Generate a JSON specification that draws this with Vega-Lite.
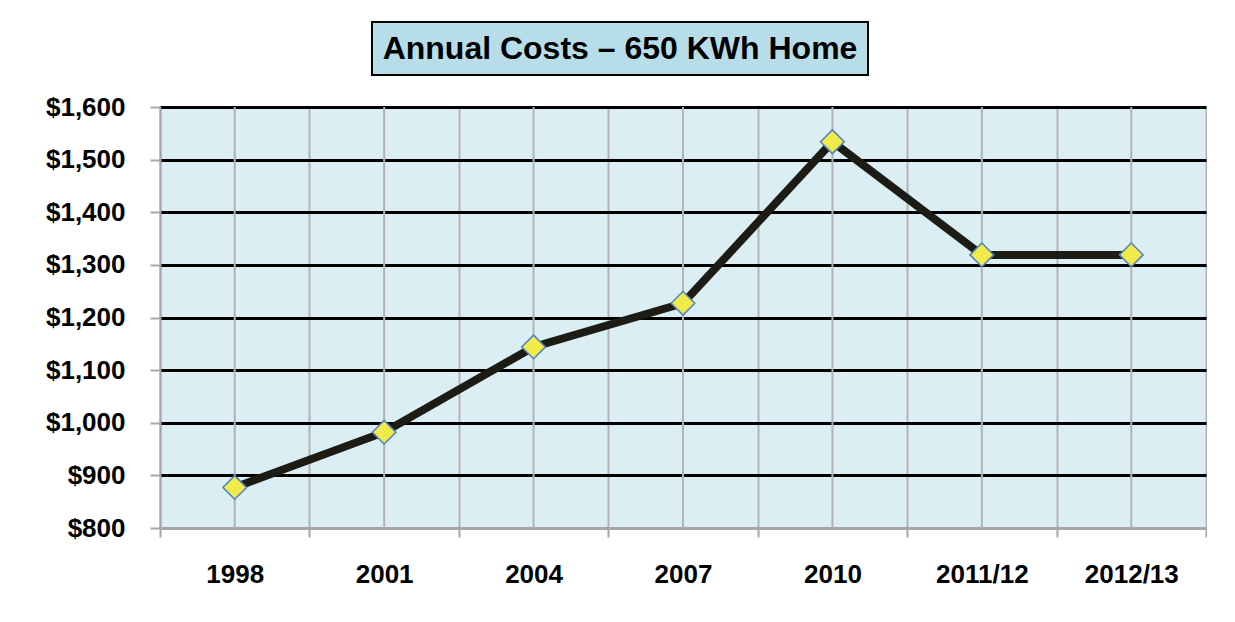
{
  "$schema": "https://vega.github.io/schema/vega-lite/v6.json",
  "background": "white",
  "padding": {"left": 45, "top": 21, "right": 0, "bottom": 0},
  "spacing": 18,
  "center": true,
  "config": {"view": {"stroke": null}, "font": "Liberation Sans"},
  "vconcat": [
    {
      "width": 496,
      "height": 53,
      "view": {"fill": "#B7DEE8", "stroke": "#000000", "strokeWidth": 2},
      "data": {"values": [{"t": "Annual Costs – 650 KWh Home"}]},
      "mark": {"type": "text", "fontSize": 32, "fontWeight": "bold", "font": "Liberation Sans", "color": "black", "baseline": "middle", "align": "center"},
      "encoding": {
        "text": {"field": "t", "type": "nominal"},
        "y": {"field": "t", "type": "nominal", "axis": {"orient": "right", "title": null, "labels": false, "ticks": false, "domain": false, "grid": false, "minExtent": 126, "maxExtent": 126}}
      }
    },
    {
      "width": 1046,
      "height": 421,
      "view": {"fill": "#DAEEF3", "stroke": null},
      "data": {"values": [
        {"label": "1998", "cost": 877},
        {"label": "2001", "cost": 982},
        {"label": "2004", "cost": 1144},
        {"label": "2007", "cost": 1227},
        {"label": "2010", "cost": 1534},
        {"label": "2011/12", "cost": 1319},
        {"label": "2012/13", "cost": 1319}
      ]},
      "encoding": {
        "x": {
          "field": "label", "type": "ordinal", "sort": null,
          "scale": {"type": "band", "paddingInner": 0, "paddingOuter": 0},
          "axis": {
            "title": null, "labelAngle": 0, "tickBand": "extent",
            "grid": true, "gridColor": "#b3b3b3", "gridWidth": 2,
            "domainColor": "#a6a6a6", "domainWidth": 2,
            "tickColor": "#a6a6a6", "tickWidth": 2, "tickSize": 9,
            "labelFontSize": 26, "labelFontWeight": "bold", "labelColor": "black",
            "labelPadding": 37, "labelBaseline": "middle", "labelFont": "Liberation Sans"
          }
        }
      },
      "layer": [
        {
          "mark": {"type": "rule", "color": "#b3b3b3", "strokeWidth": 2}
        },
        {
          "mark": {"type": "line", "color": "#1c1c14", "strokeWidth": 8},
          "encoding": {
            "y": {
              "field": "cost", "type": "quantitative",
              "scale": {"domain": [800, 1600], "nice": false, "zero": false},
              "axis": {
                "title": null,
                "values": [800, 900, 1000, 1100, 1200, 1300, 1400, 1500, 1600],
                "format": "$,.0f",
                "grid": true,
                "gridColor": {"condition": {"test": "datum.value == 800", "value": "#a6a6a6"}, "value": "#000000"},
                "gridWidth": 3,
                "domainColor": "#a6a6a6", "domainWidth": 2,
                "tickColor": "#a6a6a6", "tickWidth": 2, "tickSize": 10,
                "labelFontSize": 26, "labelFontWeight": "bold", "labelColor": "black",
                "labelPadding": 25, "labelFont": "Liberation Sans"
              }
            }
          }
        },
        {
          "mark": {"type": "point", "shape": "diamond", "filled": true, "fill": "#f0eb4a", "stroke": "#4f81bd", "strokeWidth": 1.5, "size": 560, "opacity": 1},
          "encoding": {
            "y": {"field": "cost", "type": "quantitative"}
          }
        }
      ]
    }
  ]
}
